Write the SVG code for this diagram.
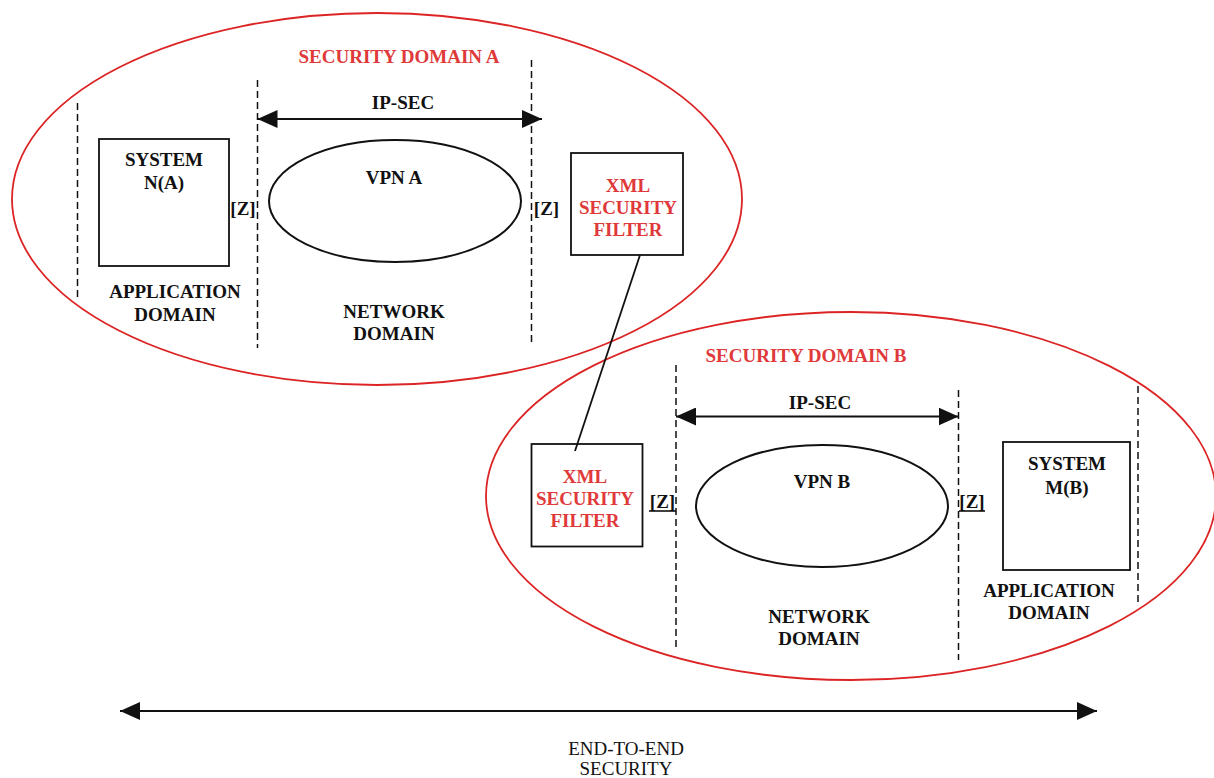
<svg xmlns="http://www.w3.org/2000/svg" width="1214" height="778" viewBox="0 0 1214 778">
  <style>
    .t { font-family: "Liberation Serif", "Times New Roman", serif; font-weight: bold; font-size: 19px; fill: #111; text-anchor: middle; }
    .r { fill: #e0393a; }
    .n { font-weight: normal; }
    .dom { fill: none; stroke: #dc2424; stroke-width: 1.8; }
    .box { fill: none; stroke: #111; stroke-width: 1.8; }
    .vpn { fill: none; stroke: #111; stroke-width: 2; }
    .dash { stroke: #111; stroke-width: 1.5; stroke-dasharray: 7 4; fill: none; }
    .arr { stroke: #111; stroke-width: 2; fill: none; marker-start: url(#head); marker-end: url(#head); }
    .ul { stroke: #111; stroke-width: 1.6; }
  </style>
  <defs>
    <marker id="head" viewBox="0 0 20 18" markerWidth="20" markerHeight="18" refX="20" refY="9" orient="auto-start-reverse" markerUnits="userSpaceOnUse">
      <path d="M0,0 L20,9 L0,18 Z" fill="#111"/>
    </marker>
  </defs>

  <!-- security domains -->
  <g id="domain-a">
    <ellipse class="dom" cx="377" cy="199" rx="365" ry="186"/>
    <text class="t r" x="399" y="63">SECURITY DOMAIN A</text>
  </g>
  <g id="domain-b">
    <ellipse class="dom" cx="851" cy="496" rx="365" ry="184"/>
    <text class="t r" x="806" y="362">SECURITY DOMAIN B</text>
  </g>

  <!-- domain boundaries -->
  <g id="boundaries">
    <line class="dash" x1="77.5" y1="103" x2="77.5" y2="300"/>
    <line class="dash" x1="257.5" y1="80" x2="257.5" y2="348"/>
    <line class="dash" x1="531.5" y1="60" x2="531.5" y2="342"/>
    <line class="dash" x1="676" y1="365" x2="676" y2="648"/>
    <line class="dash" x1="958.5" y1="390" x2="958.5" y2="660"/>
    <line class="dash" x1="1138" y1="386" x2="1138" y2="603"/>
  </g>

  <!-- domain A contents -->
  <g id="system-na">
    <rect class="box" x="99" y="139" width="130" height="127"/>
    <text class="t" x="164" y="166">SYSTEM</text>
    <text class="t" x="164" y="189">N(A)</text>
  </g>
  <g id="app-domain-a">
    <text class="t" x="175" y="298">APPLICATION</text>
    <text class="t" x="175" y="321">DOMAIN</text>
  </g>
  <g id="vpn-a">
    <ellipse class="vpn" cx="395" cy="201" rx="126" ry="61"/>
    <text class="t" x="394" y="184">VPN A</text>
  </g>
  <g id="net-domain-a">
    <text class="t" x="394" y="318">NETWORK</text>
    <text class="t" x="394" y="340">DOMAIN</text>
  </g>
  <g id="z-a">
    <text class="t" x="243" y="215">[Z]</text>
    <text class="t" x="546.5" y="215">[Z]</text>
  </g>
  <g id="filter-a">
    <rect class="box" x="571" y="153" width="112" height="102"/>
    <text class="t r" x="628" y="192">XML</text>
    <text class="t r" x="628" y="214">SECURITY</text>
    <text class="t r" x="628" y="236">FILTER</text>
  </g>

  <!-- domain B contents -->
  <g id="filter-b">
    <rect class="box" x="531.5" y="444" width="111" height="102.5"/>
    <text class="t r" x="585" y="483">XML</text>
    <text class="t r" x="585" y="505">SECURITY</text>
    <text class="t r" x="585" y="527">FILTER</text>
  </g>
  <g id="z-b">
    <text class="t" x="662.5" y="508">[Z]</text>
    <line class="ul" x1="649" y1="511" x2="676" y2="511"/>
    <text class="t" x="972" y="508">[Z]</text>
    <line class="ul" x1="959" y1="511" x2="985" y2="511"/>
  </g>
  <g id="vpn-b">
    <ellipse class="vpn" cx="822" cy="506" rx="126" ry="61"/>
    <text class="t" x="822" y="488">VPN B</text>
  </g>
  <g id="net-domain-b">
    <text class="t" x="819" y="623">NETWORK</text>
    <text class="t" x="819" y="645">DOMAIN</text>
  </g>
  <g id="system-mb">
    <rect class="box" x="1003" y="442" width="127" height="128"/>
    <text class="t" x="1067" y="470">SYSTEM</text>
    <text class="t" x="1067" y="494">M(B)</text>
  </g>
  <g id="app-domain-b">
    <text class="t" x="1049" y="597">APPLICATION</text>
    <text class="t" x="1049" y="619">DOMAIN</text>
  </g>

  <!-- connectors -->
  <g id="connectors">
    <line x1="640" y1="255" x2="575" y2="451" stroke="#111" stroke-width="1.8"/>
    <line class="arr" x1="257.5" y1="119" x2="542" y2="119"/>
    <text class="t" x="403" y="109">IP-SEC</text>
    <line class="arr" x1="676" y1="416.5" x2="958.5" y2="416.5"/>
    <text class="t" x="820" y="409">IP-SEC</text>
    <line class="arr" x1="120" y1="711" x2="1097" y2="711"/>
    <text class="t n" x="626" y="755">END-TO-END</text>
    <text class="t n" x="626" y="775">SECURITY</text>
  </g>
</svg>
